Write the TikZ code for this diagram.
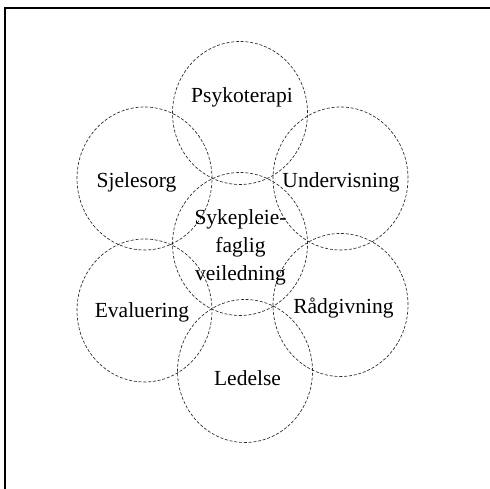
\documentclass[tikz,border=0pt]{standalone}
\usepackage{fontspec}
\setmainfont{Liberation Serif}
\usetikzlibrary{shapes.geometric}
\begin{document}
\begin{tikzpicture}[x=1pt,y=-1pt,
  ring/.style={draw=black!85, line width=0.65pt, dash pattern=on 3pt off 1.8pt,
    ellipse, minimum width=135pt, minimum height=143pt, inner sep=0pt},
  lbl/.style={font=\fontsize{21.5}{27.5}\selectfont, inner sep=0pt, anchor=base}]
\useasboundingbox (0,0) rectangle (490,489);
\clip (0,0) rectangle (490,489);
% outer frame
\draw[line width=2pt] (5,8) rectangle (520,520);
% overlapping fields
\node[ring] (top)   at (240,113)   {};
\node[ring] (ul)    at (144.5,178.5) {};
\node[ring] (ur)    at (340.5,178.5) {};
\node[ring] (mid)   at (240,244)   {};
\node[ring] (ll)    at (144.5,310.5) {};
\node[ring] (lr)    at (340.5,305) {};
\node[ring] (bot)   at (245,371)   {};
% labels
\node[lbl] (tPsy) at (242,103) {Psykoterapi};
\node[lbl] (tSje) at (136.5,188) {Sjelesorg};
\node[lbl] (tUnd) at (341,188) {Undervisning};
\node[lbl] (tMid1) at (240.5,225) {Sykepleie-};
\node[lbl] (tMid2) at (240.5,252.5) {faglig};
\node[lbl] (tMid3) at (240.5,280) {veiledning};
\node[lbl] (tEva) at (142,317) {Evaluering};
\node[lbl] (tRad) at (343.5,313) {Rådgivning};
\node[lbl] (tLed) at (247.5,385) {Ledelse};
\end{tikzpicture}
\end{document}
